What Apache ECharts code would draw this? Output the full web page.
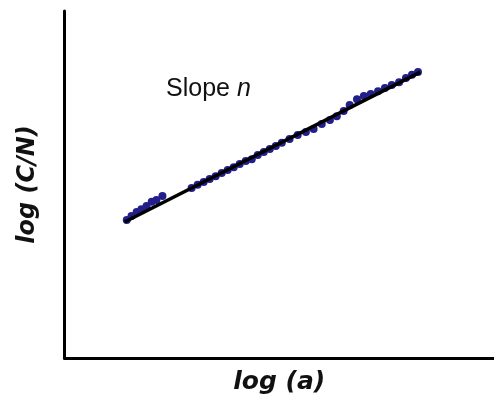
<!DOCTYPE html>
<html><head><meta charset="utf-8">
<script src="https://cdn.jsdelivr.net/npm/echarts@6/dist/echarts.min.js"></script>
<style>html,body{margin:0;padding:0;background:#fff}#c{width:494px;height:405px}</style>
</head><body><div id="c"></div>
<script>
var pointsX = [1.45,1.56,1.68,1.79,1.91,2.03,2.14,2.28,2.96,3.10,3.24,3.38,3.52,3.66,3.80,3.94,4.08,4.22,4.36,4.50,4.64,4.78,4.92,5.06,5.24,5.43,5.62,5.80,5.99,6.18,6.34,6.50,6.64,6.81,6.97,7.13,7.30,7.46,7.62,7.79,7.95,8.09,8.23];
var pointsY = [3.98,4.09,4.21,4.29,4.38,4.50,4.55,4.67,4.90,4.99,5.07,5.16,5.24,5.33,5.42,5.50,5.59,5.68,5.73,5.85,5.94,6.02,6.11,6.20,6.31,6.43,6.51,6.60,6.74,6.86,6.97,7.12,7.29,7.46,7.55,7.61,7.69,7.78,7.87,7.95,8.07,8.16,8.24];
var fitX = [1.40, 8.28];
var fitY = [3.92, 8.24];
var xTitle = 'log (a)';
var yTitle = 'log (C/N)';

var scatterData = pointsX.map(function(x,i){return [x, pointsY[i]];});
var lineData = fitX.map(function(x,i){return [x, fitY[i]];});

var chart = echarts.init(document.getElementById('c'));
chart.setOption({
  animation:false,
  backgroundColor:'#fff',
  grid:{left:64.5,right:0,top:11,bottom:47},
  xAxis:{type:'value',min:0,max:10,
    name:xTitle,nameLocation:'middle',nameGap:12,
    nameTextStyle:{fontFamily:'DejaVu Sans',fontWeight:'bold',fontStyle:'italic',fontSize:25,color:'#111'},
    axisLine:{show:true,onZero:false,lineStyle:{color:'#000',width:3}},
    axisTick:{show:false},axisLabel:{show:false},splitLine:{show:false}},
  yAxis:{type:'value',min:0,max:10,
    name:yTitle,nameLocation:'middle',nameGap:25,
    nameTextStyle:{fontFamily:'DejaVu Sans',fontWeight:'bold',fontStyle:'italic',fontSize:24,color:'#111'},
    axisLine:{show:true,onZero:false,lineStyle:{color:'#000',width:3}},
    axisTick:{show:false},axisLabel:{show:false},splitLine:{show:false}},
  series:[
    {type:'scatter',data:scatterData,symbol:'circle',symbolSize:8,itemStyle:{color:'#231f8a',opacity:1},z:2},
    {type:'line',data:lineData,symbol:'none',lineStyle:{color:'#000',width:3.5},z:3}
  ],
  graphic:[{type:'text',left:166,top:77,style:{
    text:'{a|Slope }{b|n}',
    rich:{a:{fontFamily:'Liberation Sans',fontSize:25,fill:'#111'},b:{fontFamily:'Liberation Sans',fontSize:25,fontStyle:'italic',fill:'#111'}}
  }}]
});
</script></body></html>
